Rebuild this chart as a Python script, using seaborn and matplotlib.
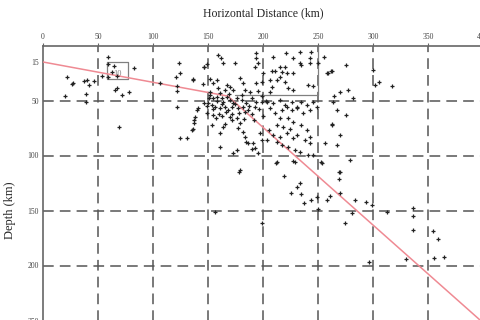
import matplotlib
matplotlib.use("Agg")
import matplotlib.pyplot as plt
import seaborn as sns
import pandas as pd

# Hypocentres: horizontal distance (km) and depth (km)
dist = [
    # western group
    58.8, 58.8, 64.5, 63, 54, 59, 67, 83, 22, 26, 27, 37, 39.7, 46, 41.6, 20, 38.8, 38.8, 67, 78, 72, 69, 65.5,
    # 100-145 km
    106, 124, 124.5, 120.6, 122, 122, 136, 121.5, 140.6, 137, 137, 135.5, 124.5, 130.6, 146, 138, 136, 139.7,
    # upper cluster
    159.4, 162, 163.6, 174.5, 148.8, 146.4, 194, 193.6, 195.7, 192.7, 136.7, 145.7, 151.8, 154.8, 157.9, 179,
    182, 194, 198.8, 170, 173, 165.5, 161,
    221, 233.6, 244, 209, 227.5, 242.7, 215, 220, 235, 233.6, 242.7, 208, 211, 217, 221.5, 215.5, 227.5, 206,
    212.5, 220, 208, 223, 227.5, 241, 245.7, 250.3, 259, 262.5, 206, 200, 255.5, 261.5, 258,
    # eastern outskirts
    275.5, 270, 277.5, 281.5, 264.5, 267, 275.5, 262.5, 270, 267, 300.3, 302, 305.7, 317, 279, 270, 283.6, 294,
    299.5, 280.6, 313, 274.5, 336, 336, 336.7, 355, 358.8, 329.7, 355.5, 364.5, 296,
    # deeper events
    178.5, 156, 213, 229, 219, 233.6, 231, 225.5, 234.5, 237.5, 243.6, 248.8, 258, 261, 249.7, 254, 269.4,
    269.4, 270, 198.8, 212,
    148.8, 154.8, 153.3, 162.4, 165.5, 164, 161, 171.5, 176, 179, 177.5, 181.5, 183.6, 161, 173, 176, 185,
    186.6, 191, 192.7, 189.7, 197, 198.8, 195.7, 179,
    206, 211, 217, 221.5, 226, 230.6, 236.6, 242.7, 215.5, 223, 227.5, 235, 212.5, 218.5, 224.5, 239.7, 205,
    209.5, 215.5, 221.5, 227.5, 230.6, 238, 242.7, 242.7, 203.4, 212.5, 217, 223, 229, 233.6, 241, 245.7,
    227.5, 253, 262.5, 256,
    # dense core
    151.8, 154.8, 157.9, 162.4, 164, 167, 170, 173, 176, 180.6, 185, 189.7, 194, 198.8, 153.3, 156.4, 161,
    165.5, 168.5, 171.5, 177.5, 182, 186.6, 192.7,
    150, 155, 158, 160, 163, 166, 169, 172, 175, 178, 181, 184, 187, 190, 196, 199, 151, 149, 157, 170, 183,
    192, 200, 203, 146, 152, 159, 167, 184, 188, 195,
    203.4, 209.5, 215.5, 220, 226, 230.6, 235, 239.7, 245.7, 248.8, 264,
]
depth = [
    10.7, 16.8, 19, 24, 28, 29, 28, 20.5, 29, 35, 34, 32, 31, 32.4, 36, 46, 44, 51.6, 39, 42, 45, 74, 40,
    34, 15.6, 24.7, 29, 37, 41, 31, 55.6, 56.5, 67.7, 70.6, 76.8, 84, 84, 19.8, 65, 76, 58.6,
    8.6, 11.6, 15.6, 16.2, 16.8, 19.3, 7, 11.6, 16.2, 19.8, 30.7, 35, 30.7, 33.8, 31.4, 29.8,
    34.4, 34.4, 32.9, 37.4, 40.5, 40.5, 43.5,
    6.5, 5.6, 5.6, 10, 11.6, 11.6, 19.8, 19.3, 17.7, 15.6, 16.2, 23, 23, 23.8, 25.3, 28.4, 25.3, 31.4,
    31.4, 33, 37.4, 39, 40.5, 36, 36.8, 15.6, 25.3, 23, 42, 25.3, 10.7, 23, 24.7,
    17.7, 42.5, 40, 48, 46, 58.6, 63, 71.6, 81.4, 90.5, 22.3, 36, 33, 36.5, 104, 114.7, 140.5, 142.5,
    145, 152.5, 151.6, 161.6, 148, 155, 167.7, 168.6, 176, 194, 193.5, 192, 196.5,
    114.7, 151.6, 105.6, 105.6, 118.6, 124.7, 128.4, 134.4, 135.3, 142.9, 140, 138, 140.5, 136.8, 149, 106.5, 114.7,
    121.6, 134.4, 161.6, 106.5,
    61, 63, 72, 64, 71.4, 74.4, 79.3, 67.7, 66.2, 70.7, 75.3, 78.4, 83, 92, 97.5, 95, 87.5,
    89, 89, 93.5, 94.4, 79.8, 86, 97.5, 113,
    57, 61.6, 58.6, 55.6, 58.6, 57, 61.6, 58.6, 66.2, 66.2, 69.3, 72.3, 72.3, 73.8, 76.2, 76.8, 76.8,
    81.4, 82.9, 79.8, 84.4, 81.4, 86, 89, 82.9, 86, 87.5, 90.5, 92, 95, 96.5, 99.5, 99.5,
    105, 105.6, 72.3, 89,
    45, 48, 46.5, 48, 51, 46.5, 49.5, 52.5, 48, 49.5, 52.5, 48, 51, 51, 54, 55.6, 57,
    55.6, 58.6, 55.6, 57, 55.6, 58.6, 55.6,
    52, 58, 50, 62, 53, 60, 44, 62, 53, 61, 45, 60, 55, 62, 58, 46, 48, 55, 66, 65, 67,
    68, 64, 50, 52, 42, 39, 36, 40, 42, 41,
    51, 52.5, 49.5, 54, 51, 55.6, 51, 54, 51, 55.6, 51,
]

# Fitted slab profile (distance, depth)
slab_dist = [0, 168, 400]
slab_depth = [15, 46, 252]

x_ticks = [0, 50, 100, 150, 200, 250, 300, 350, 400]
y_ticks = [15, 50, 100, 150, 200, 250]
grid_x = [50, 100, 150, 200, 250, 300, 350]
grid_y = [50, 100, 150, 200, 250]

sns.set_style("white")
plt.rcParams["font.family"] = ["Liberation Serif", "DejaVu Serif"]

fig = plt.figure(figsize=(4.8, 3.2), dpi=100)
ax = fig.add_axes([43 / 480, 1 - 375.5 / 320, 440 / 480, 330 / 320])

for gx in grid_x:
    ax.axvline(gx, color="#555555", lw=1.1, ls=(0, (7, 4)), zorder=1)
for gy in grid_y:
    ax.axhline(gy, color="#555555", lw=1.1, ls=(0, (7, 4)), zorder=1)

# outlined sub-regions
ax.plot([58, 77, 77, 58, 58], [15, 15, 30, 30, 15], color="#808080", lw=0.9, zorder=2)
ax.text(64, 28, "10", fontsize=6, color="#808080", zorder=2)
ax.plot([175, 250, 250], [45, 45, 0], color="#808080", lw=0.9, zorder=2)

sns.lineplot(x=slab_dist, y=slab_depth, ax=ax, color="#ef8a93", lw=1.1, zorder=3,
             estimator=None, sort=False)

events = pd.DataFrame({"dist": dist, "depth": depth})
sns.scatterplot(data=events, x="dist", y="depth", ax=ax, marker="+", s=11,
                color="#222222", linewidth=0.9, zorder=4)

ax.set_xlim(0, 400)
ax.set_ylim(300, 0)
ax.xaxis.tick_top()
ax.xaxis.set_label_position("top")
ax.set_xticks(x_ticks)
ax.set_yticks(y_ticks)
ax.tick_params(axis="both", labelsize=5.5, labelcolor="#444444", length=2, pad=1, color="#666666")
ax.set_xlabel("Horizontal Distance (km)", fontsize=8.5, labelpad=12)
ax.set_ylabel("Depth (km)", fontsize=9, labelpad=8)

for side in ["right", "bottom"]:
    ax.spines[side].set_visible(False)
for side in ["left", "top"]:
    ax.spines[side].set_color("#666666")
    ax.spines[side].set_linewidth(1.2)

fig.savefig("out.png", dpi=100)
